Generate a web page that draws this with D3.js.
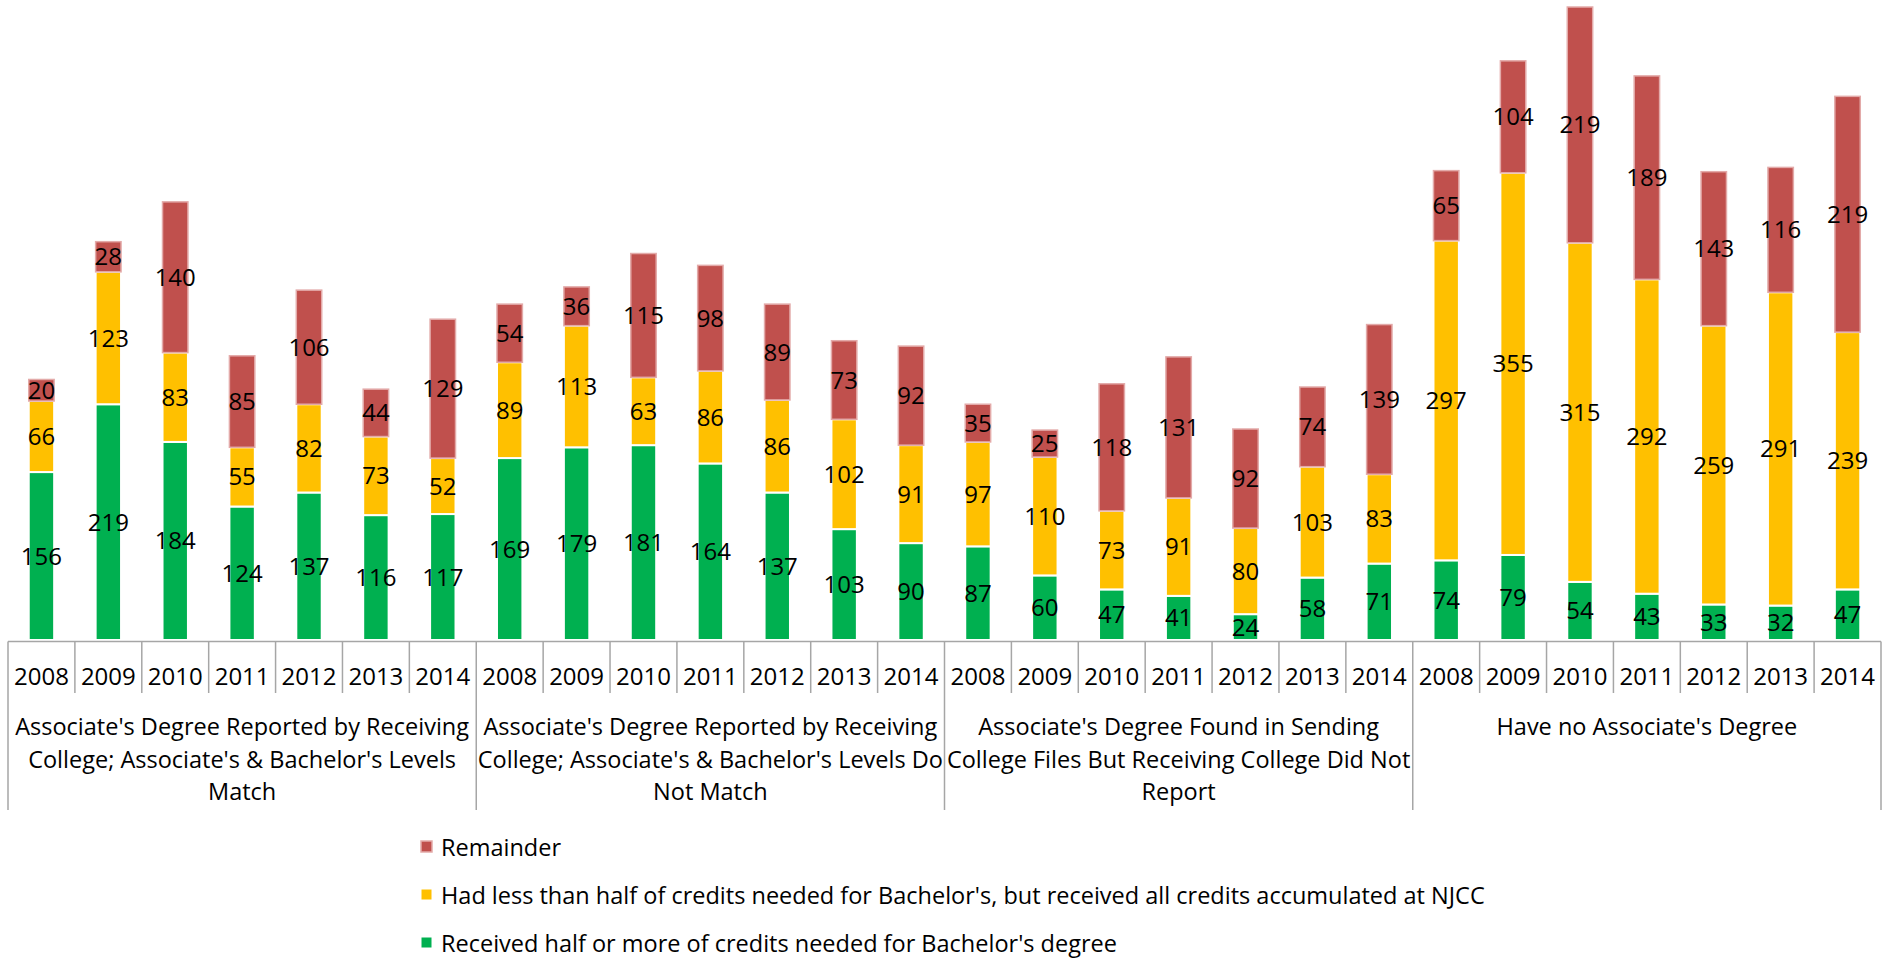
<!DOCTYPE html>
<html>
<head>
<meta charset="utf-8">
<script src="https://cdnjs.cloudflare.com/ajax/libs/d3/7.8.5/d3.min.js"></script>
<style>
  body { margin: 0; background: #fff; }
  text { font-family: "Open Sans", sans-serif; fill: #000; }
</style>
</head>
<body>
<script>
// categories
var years = ["2008", "2009", "2010", "2011", "2012", "2013", "2014"];
var groupLines = [
  ["Associate's Degree Reported by Receiving", "College; Associate's & Bachelor's Levels", "Match"],
  ["Associate's Degree Reported by Receiving", "College; Associate's & Bachelor's Levels Do", "Not Match"],
  ["Associate's Degree Found in Sending", "College Files But Receiving College Did Not", "Report"],
  ["Have no Associate's Degree"]
];

// series values (group by group, 2008..2014)
var halfOrMore = [156, 219, 184, 124, 137, 116, 117,
                  169, 179, 181, 164, 137, 103, 90,
                  87, 60, 47, 41, 24, 58, 71,
                  74, 79, 54, 43, 33, 32, 47];
var lessThanHalf = [66, 123, 83, 55, 82, 73, 52,
                    89, 113, 63, 86, 86, 102, 91,
                    97, 110, 73, 91, 80, 103, 83,
                    297, 355, 315, 292, 259, 291, 239];
var remainder = [20, 28, 140, 85, 106, 44, 129,
                 54, 36, 115, 98, 89, 73, 92,
                 35, 25, 118, 131, 92, 74, 139,
                 65, 104, 219, 189, 143, 116, 219];

var seriesNames = ["Received half or more of credits needed for Bachelor's degree",
                   "Had less than half of credits needed for Bachelor's, but received all credits accumulated at NJCC",
                   "Remainder"];

var keys = ["green", "yellow", "red"];
var fills = { green: "#00B050", yellow: "#FFC000", red: "#C0504D" };
var strokes = { green: "#ffffff", yellow: "#ffffff", red: "#e3aaa9" };

var w = 1890, h = 958;
var plotLeft = 8, plotRight = 1881, base = 640, plotTop = 7;

// one row per bar
var rows = [];
groupLines.forEach(function(g, gi) {
  years.forEach(function(yr, yi) {
    var i = gi * years.length + yi;
    rows.push({ id: i, group: gi, year: yr,
                green: halfOrMore[i], yellow: lessThanHalf[i], red: remainder[i] });
  });
});

var stacked = d3.stack().keys(keys)(rows);

var x = d3.scaleBand()
  .domain(rows.map(function(d) { return d.id; }))
  .range([plotLeft, plotRight])
  .paddingInner(0.62)
  .paddingOuter(0.31);

var maxTotal = d3.max(rows, function(d) { return d.green + d.yellow + d.red; });
var y = d3.scaleLinear().domain([0, maxTotal]).range([base, plotTop]);

var svg = d3.select("body").append("svg")
  .attr("width", w)
  .attr("height", h);

// bars
var layer = svg.selectAll("g.layer")
  .data(stacked)
  .enter()
  .append("g")
  .attr("class", "layer");

layer.selectAll("rect")
  .data(function(s) { return s.map(function(d) { return { key: s.key, d: d }; }); })
  .enter()
  .append("rect")
  .attr("x", function(p) { return x(p.d.data.id); })
  .attr("width", x.bandwidth())
  .attr("y", function(p) { return y(p.d[1]); })
  .attr("height", function(p) { return y(p.d[0]) - y(p.d[1]); })
  .attr("fill", function(p) { return fills[p.key]; })
  .attr("stroke", function(p) { return strokes[p.key]; })
  .attr("stroke-width", function(p) { return p.key == "red" ? 1.5 : 2; });

// value labels
layer.selectAll("text")
  .data(function(s) { return s.map(function(d) { return { key: s.key, d: d }; }); })
  .enter()
  .append("text")
  .attr("x", function(p) { return x(p.d.data.id) + x.bandwidth() / 2; })
  .attr("y", function(p) { return (y(p.d[0]) + y(p.d[1])) / 2 + 8.5; })
  .attr("text-anchor", "middle")
  .attr("font-size", "24px")
  .text(function(p) { return p.d.data[p.key]; });

// category axis
var step = x.step();
var axisG = svg.append("g");

axisG.append("line")
  .attr("x1", plotLeft).attr("x2", plotRight)
  .attr("y1", base + 1.5).attr("y2", base + 1.5)
  .attr("stroke", "#a6a6a6").attr("stroke-width", 1.5);

axisG.selectAll("line.tick")
  .data(d3.range(rows.length + 1))
  .enter()
  .append("line")
  .attr("class", "tick")
  .attr("x1", function(i) { return plotLeft + i * step; })
  .attr("x2", function(i) { return plotLeft + i * step; })
  .attr("y1", base + 1.5)
  .attr("y2", function(i) { return i % years.length == 0 ? 810 : 693; })
  .attr("stroke", "#a6a6a6").attr("stroke-width", 1.5);

axisG.selectAll("text.year")
  .data(rows)
  .enter()
  .append("text")
  .attr("class", "year")
  .attr("x", function(d) { return x(d.id) + x.bandwidth() / 2; })
  .attr("y", 684.5)
  .attr("text-anchor", "middle")
  .attr("font-size", "24px")
  .text(function(d) { return d.year; });

axisG.selectAll("text.group")
  .data(groupLines)
  .enter()
  .append("text")
  .attr("class", "group")
  .attr("text-anchor", "middle")
  .attr("font-size", "23.5px")
  .attr("x", function(g, gi) { return plotLeft + (gi + 0.5) * years.length * step; })
  .each(function(g) {
    var t = d3.select(this);
    var cx = t.attr("x");
    g.forEach(function(line, li) {
      t.append("tspan").attr("x", cx).attr("y", 735 + li * 32.5).text(line);
    });
  });

// legend
var legendKeys = ["red", "yellow", "green"];
var legendLabels = { red: seriesNames[2], yellow: seriesNames[1], green: seriesNames[0] };
var legend = svg.selectAll("g.legend")
  .data(legendKeys)
  .enter()
  .append("g")
  .attr("class", "legend")
  .attr("transform", function(k, i) { return "translate(0," + [847, 895, 943][i] + ")"; });

legend.append("rect")
  .attr("x", 421).attr("y", -6)
  .attr("width", 11).attr("height", 11)
  .attr("fill", function(k) { return fills[k]; })
  .attr("stroke", function(k) { return strokes[k]; })
  .attr("stroke-width", function(k) { return k == "red" ? 1.5 : 1; });

legend.append("text")
  .attr("x", 441)
  .attr("y", 8.5)
  .attr("font-size", "23.5px")
  .text(function(k) { return legendLabels[k]; });
</script>
</body>
</html>
